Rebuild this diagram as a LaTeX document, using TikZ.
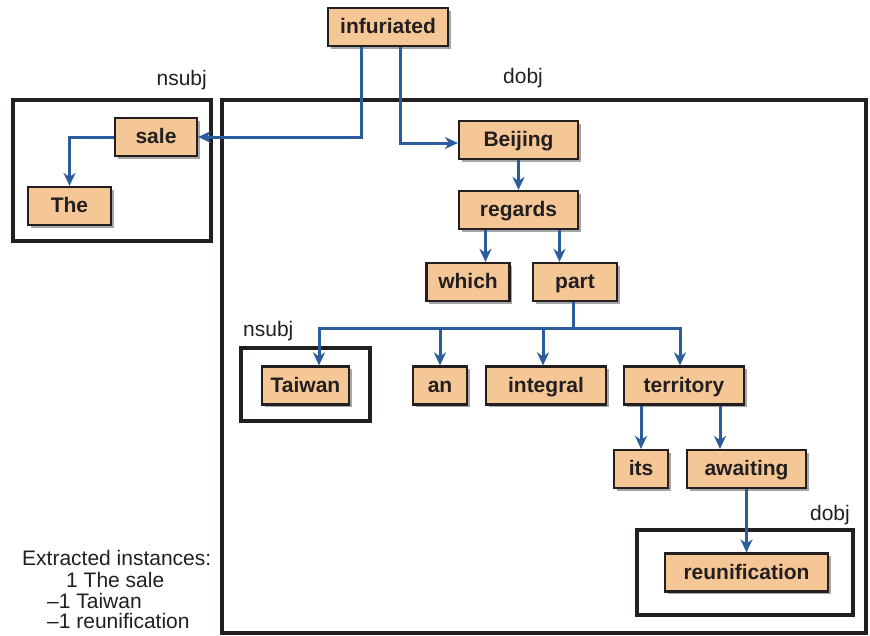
\documentclass[tikz,border=0pt]{standalone}
\usepackage{fontspec}
\setmainfont{Liberation Sans}
\usetikzlibrary{arrows.meta,shadows}
\definecolor{nodefill}{HTML}{F6C796}
\definecolor{edgeblue}{HTML}{2B5C9C}
\definecolor{boxline}{HTML}{231F20}
\tikzset{
  wnode/.style={draw=boxline, line width=2.2pt, fill=nodefill, minimum height=38pt, inner sep=0pt,
    text height=16pt, text depth=3pt,
    font=\fontsize{21}{24}\selectfont\bfseries, text=boxline,
    drop shadow={shadow xshift=2.5pt, shadow yshift=-2.5pt, fill=black, opacity=0.35}},
  grp/.style={draw=boxline, line width=3.2pt},
  lbl/.style={font=\fontsize{21}{24}\selectfont, text=boxline, inner sep=0pt},
  ln/.style={draw=edgeblue, line width=3pt},
  arr/.style={ln, -{Stealth[length=13pt,width=12pt,inset=4pt]}}
}
\begin{document}
\begin{tikzpicture}[x=1pt,y=-1pt]
\useasboundingbox (0,0) rectangle (870,635);
% group boxes
\draw[grp] (13,100) rectangle (211,241);
\draw[grp] (222,100) rectangle (866,633);
\draw[grp] (241,348) rectangle (370,421);
\draw[grp] (637,530) rectangle (853,615);
\node[lbl, anchor=east] (l1) at (207,80) {nsubj};
\node[lbl, anchor=center] (l2) at (523,78) {dobj};
\node[lbl, anchor=west] (l3) at (243,331) {nsubj};
\node[lbl, anchor=east] (l4) at (850,515) {dobj};
% word nodes
\node[wnode, minimum width=120pt] (inf) at (388,27) {infuriated};
\node[wnode, minimum width=82pt] (sale) at (156,137) {sale};
\node[wnode, minimum width=83pt] (the) at (69.5,206) {The};
\node[wnode, minimum width=119pt] (bei) at (518.5,140) {Beijing};
\node[wnode, minimum width=119pt] (reg) at (518.5,210) {regards};
\node[wnode, minimum width=83pt] (which) at (468,282) {which};
\node[wnode, minimum width=84pt] (part) at (575,282) {part};
\node[wnode, minimum width=87pt] (tai) at (305.5,385.5) {Taiwan};
\node[wnode, minimum width=54pt] (an) at (440,385.5) {an};
\node[wnode, minimum width=120pt] (int) at (546,385.5) {integral};
\node[wnode, minimum width=120pt] (ter) at (684,385.5) {territory};
\node[wnode, minimum width=54pt] (its) at (641,469) {its};
\node[wnode, minimum width=119pt] (aw) at (746.5,469) {awaiting};
\node[wnode, minimum width=163pt] (reu) at (746.5,572.5) {reunification};
% connectors
\draw[arr] ([xshift=-27pt]inf.south) |- (sale.east);
\draw[arr] ([xshift=12pt]inf.south) |- ([yshift=-3pt]bei.west);
\draw[arr] (sale.west) -| (the.north);
\draw[arr] (bei.south) -- (reg.north);
\draw[arr] ([xshift=-33pt]reg.south) -- ([xshift=-33pt]reg.south |- which.north);
\draw[arr] ([xshift=41pt]reg.south) -- ([xshift=41pt]reg.south |- part.north);
\coordinate (bL) at (319,328);
\coordinate (bR) at (680,328);
\draw[ln] ([xshift=-2pt]part.south) -- ([xshift=-2pt]part.south |- bR);
\draw[ln] ([xshift=-1.5pt]bL) -- ([xshift=1.5pt]bR);
\draw[arr] ([yshift=-1.5pt]bL) -- (bL |- tai.north);
\draw[arr] (an.north |- bL) -- (an.north);
\draw[arr] ([xshift=-3pt]int.north |- bL) -- ([xshift=-3pt]int.north);
\draw[arr] ([yshift=-1.5pt]bR) -- (bR |- ter.north);
\draw[arr] (ter.south -| its.north) -- (its.north);
\draw[arr] ([xshift=36pt]ter.south) -- ([xshift=36pt]ter.south |- aw.north);
\draw[arr] (aw.south) -- (reu.north);
% extracted instances
\node[lbl, anchor=west] (e1) at (22,558) {Extracted instances:};
\node[lbl, anchor=west] (e2) at (66,580) {1 The sale};
\node[lbl, anchor=west] (e3) at (47,601) {–1 Taiwan};
\node[lbl, anchor=west] (e4) at (47,621) {–1 reunification};
\end{tikzpicture}
\end{document}
